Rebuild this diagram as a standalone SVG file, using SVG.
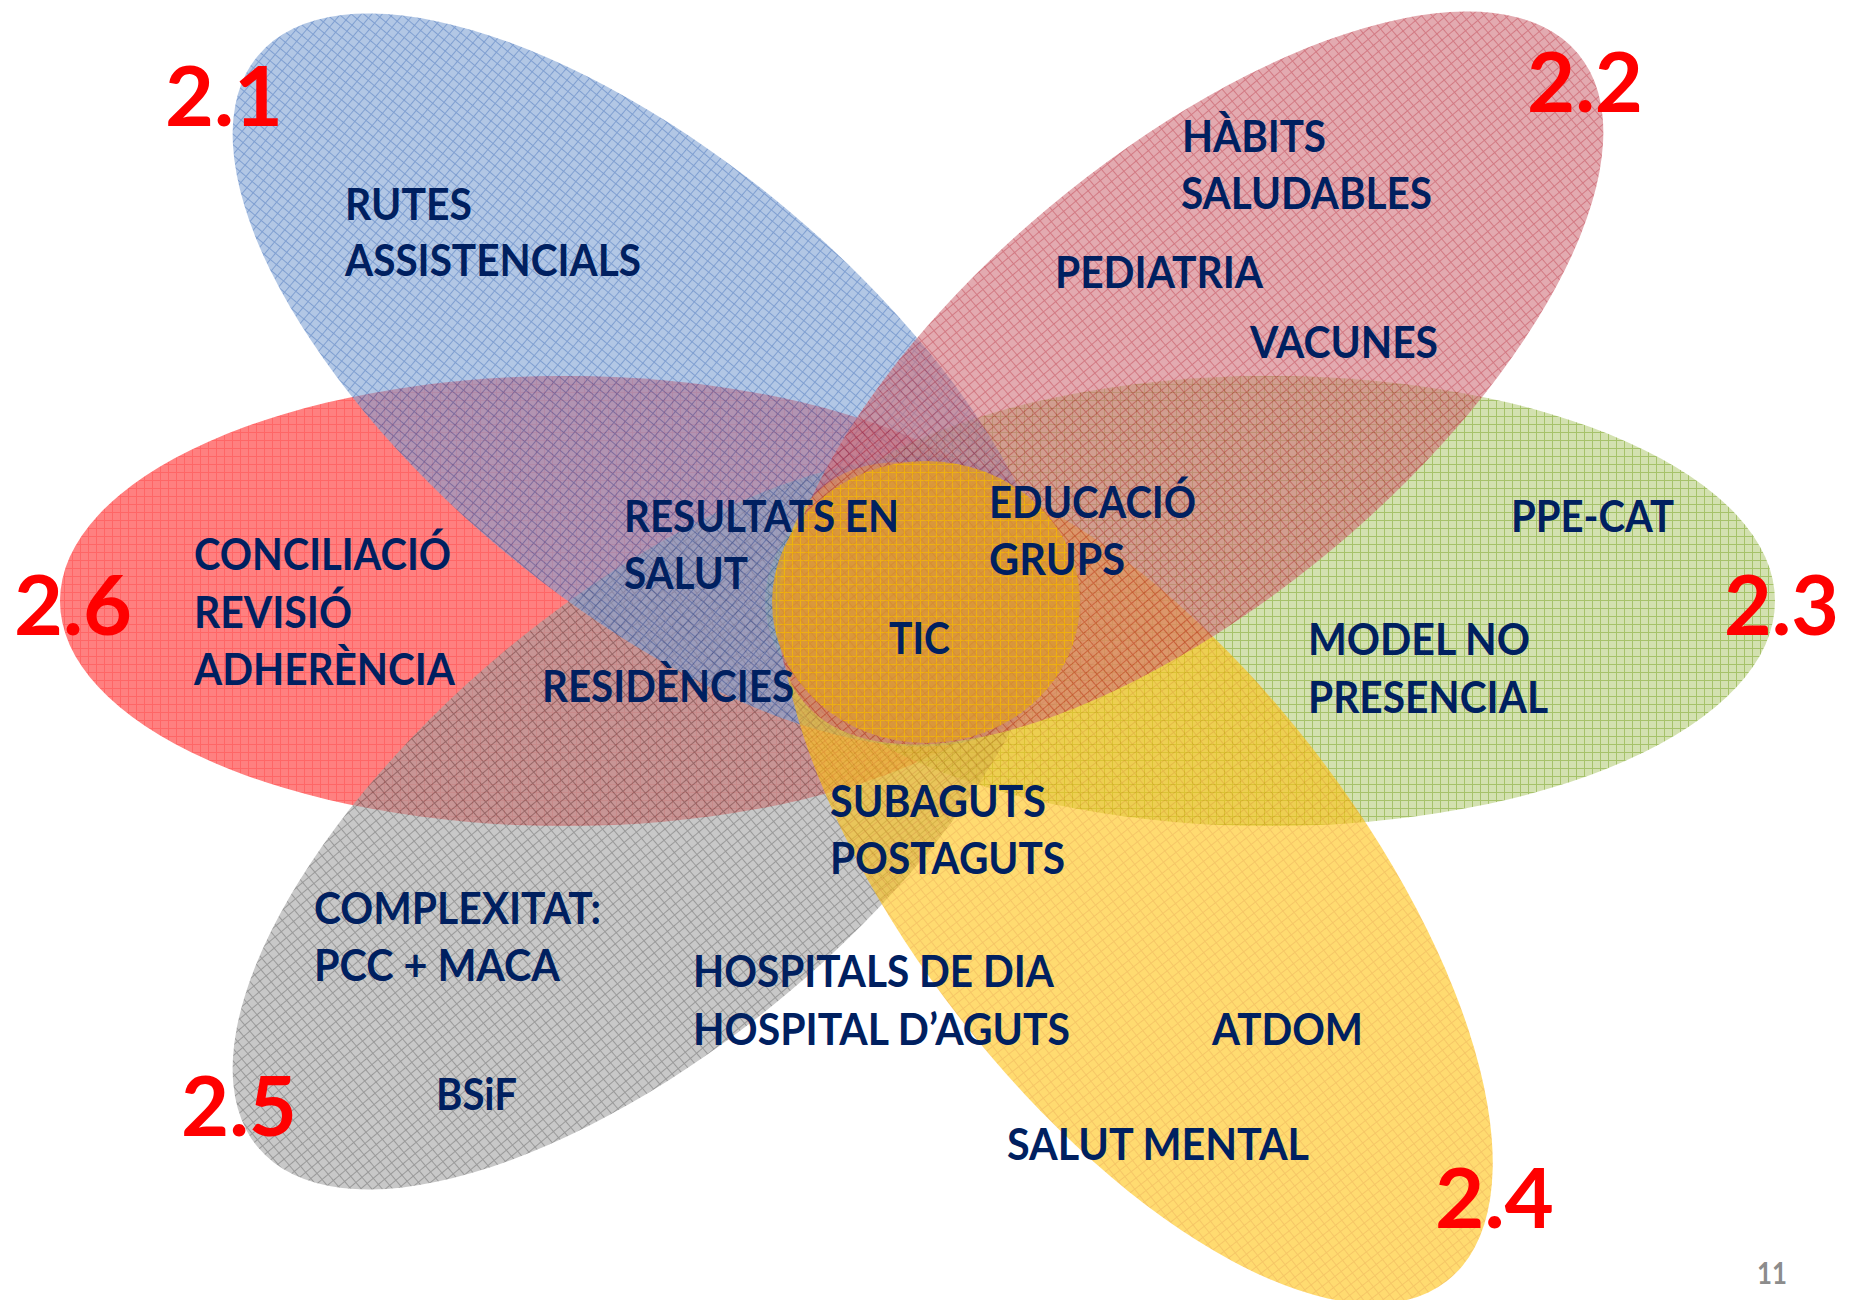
<svg xmlns="http://www.w3.org/2000/svg" width="1851" height="1300" viewBox="0 0 1851 1300">
<defs>
<pattern id="pBlue" width="8" height="8" patternUnits="userSpaceOnUse"><rect width="8" height="8" fill="#7fa2d4"/><path d="M0 0.5H8M0.5 0V8" stroke="#2a5fb2" stroke-width="1"/></pattern>
<pattern id="pPink" width="8" height="8" patternUnits="userSpaceOnUse"><rect width="8" height="8" fill="#d0717b"/><path d="M0 0.5H8M0.5 0V8" stroke="#b52030" stroke-width="1"/></pattern>
<pattern id="pGreen" width="8" height="8" patternUnits="userSpaceOnUse"><rect width="8" height="8" fill="#b6cd7b"/><path d="M0 0.5H8M0.5 0V8" stroke="#6b9907" stroke-width="1"/></pattern>
<pattern id="pYellow" width="8" height="8" patternUnits="userSpaceOnUse"><rect width="8" height="8" fill="#ffc311"/><path d="M0 0.5H8M0.5 0V8" stroke="#f0a000" stroke-width="1"/></pattern>
<pattern id="pGray" width="8" height="8" patternUnits="userSpaceOnUse"><rect width="8" height="8" fill="#a3a3a3"/><path d="M0 0.5H8M0.5 0V8" stroke="#555555" stroke-width="1"/></pattern>
<pattern id="pRed" width="8" height="8" patternUnits="userSpaceOnUse"><rect width="8" height="8" fill="#ff2b2b"/><path d="M0 0.5H8M0.5 0V8" stroke="#ff0000" stroke-width="1"/></pattern>
<pattern id="pOrange" width="8" height="8" patternUnits="userSpaceOnUse"><rect width="8" height="8" fill="#dc9a30"/><path d="M0 0.5H8M0.5 0V8" stroke="#f5b800" stroke-width="1"/></pattern>
</defs>
<style>
.petal{opacity:0.6}
.core{opacity:0.82}
.t{font-family:Lato,"Liberation Sans",sans-serif;font-weight:bold;font-size:44px;fill:#002060}
.n{font-family:Lato,"Liberation Sans",sans-serif;font-weight:bold;font-size:83px;fill:#ff0000}
.pg{font-family:Lato,"Liberation Sans",sans-serif;font-weight:bold;font-size:30px;fill:#8c8c8c}
</style>
<rect width="1851" height="1300" fill="#ffffff"/>
<g id="petals">
<g id="petal-2-6"><ellipse class="petal" cx="565" cy="601" rx="505" ry="225" fill="url(#pRed)"/></g>
<g id="petal-2-3"><ellipse class="petal" cx="1270" cy="601" rx="505" ry="225" fill="url(#pGreen)"/></g>
<g id="petal-2-5"><ellipse class="petal" cx="645" cy="823" rx="505" ry="222" transform="rotate(-40 645 823)" fill="url(#pGray)"/></g>
<g id="petal-2-1"><ellipse class="petal" cx="645" cy="380" rx="505" ry="222" transform="rotate(40 645 380)" fill="url(#pBlue)"/></g>
<g id="petal-2-4"><ellipse class="petal" cx="1136" cy="883" rx="505" ry="222" transform="rotate(52 1136 883)" fill="url(#pYellow)"/></g>
<g id="petal-2-2"><ellipse class="petal" cx="1191" cy="378" rx="505" ry="222" transform="rotate(-40 1191 378)" fill="url(#pPink)"/></g>
<g id="core"><ellipse class="core" cx="926" cy="602" rx="154" ry="141" fill="url(#pOrange)"/></g>
</g>
<g id="numbers">
<text class="n" x="165" y="126" textLength="118" lengthAdjust="spacingAndGlyphs">2.1</text>
<text class="n" x="1527" y="112" textLength="116" lengthAdjust="spacingAndGlyphs">2.2</text>
<text class="n" x="1724" y="635" textLength="115" lengthAdjust="spacingAndGlyphs">2.3</text>
<text class="n" x="1435" y="1228" textLength="119" lengthAdjust="spacingAndGlyphs">2.4</text>
<text class="n" x="181" y="1136" textLength="116" lengthAdjust="spacingAndGlyphs">2.5</text>
<text class="n" x="14" y="635" textLength="118" lengthAdjust="spacingAndGlyphs">2.6</text>
</g>
<g id="labels">
<g id="label-rutes">
<text class="t" x="345" y="220" textLength="127" lengthAdjust="spacingAndGlyphs">RUTES</text>
<text class="t" x="345" y="276" textLength="296" lengthAdjust="spacingAndGlyphs">ASSISTENCIALS</text>
</g>
<g id="label-habits">
<text class="t" x="1182" y="152" textLength="144" lengthAdjust="spacingAndGlyphs">HÀBITS</text>
<text class="t" x="1181" y="209" textLength="251" lengthAdjust="spacingAndGlyphs">SALUDABLES</text>
</g>
<g id="label-pediatria"><text class="t" x="1055" y="288" textLength="208" lengthAdjust="spacingAndGlyphs">PEDIATRIA</text></g>
<g id="label-vacunes"><text class="t" x="1250" y="358" textLength="188" lengthAdjust="spacingAndGlyphs">VACUNES</text></g>
<g id="label-resultats">
<text class="t" x="624" y="532" textLength="275" lengthAdjust="spacingAndGlyphs">RESULTATS EN</text>
<text class="t" x="624" y="589" textLength="124" lengthAdjust="spacingAndGlyphs">SALUT</text>
</g>
<g id="label-educacio">
<text class="t" x="989" y="518" textLength="207" lengthAdjust="spacingAndGlyphs">EDUCACIÓ</text>
<text class="t" x="989" y="575" textLength="136" lengthAdjust="spacingAndGlyphs">GRUPS</text>
</g>
<g id="label-conciliacio">
<text class="t" x="194" y="570" textLength="257" lengthAdjust="spacingAndGlyphs">CONCILIACIÓ</text>
<text class="t" x="194" y="628" textLength="158" lengthAdjust="spacingAndGlyphs">REVISIÓ</text>
<text class="t" x="194" y="685" textLength="261" lengthAdjust="spacingAndGlyphs">ADHERÈNCIA</text>
</g>
<g id="label-tic"><text class="t" x="889" y="654" textLength="61" lengthAdjust="spacingAndGlyphs">TIC</text></g>
<g id="label-residencies"><text class="t" x="542" y="702" textLength="252" lengthAdjust="spacingAndGlyphs">RESIDÈNCIES</text></g>
<g id="label-ppecat"><text class="t" x="1511" y="532" textLength="163" lengthAdjust="spacingAndGlyphs">PPE-CAT</text></g>
<g id="label-model">
<text class="t" x="1308" y="655" textLength="222" lengthAdjust="spacingAndGlyphs">MODEL NO</text>
<text class="t" x="1308" y="713" textLength="240" lengthAdjust="spacingAndGlyphs">PRESENCIAL</text>
</g>
<g id="label-subaguts">
<text class="t" x="830" y="817" textLength="216" lengthAdjust="spacingAndGlyphs">SUBAGUTS</text>
<text class="t" x="830" y="874" textLength="235" lengthAdjust="spacingAndGlyphs">POSTAGUTS</text>
</g>
<g id="label-complexitat">
<text class="t" x="314" y="924" textLength="287" lengthAdjust="spacingAndGlyphs">COMPLEXITAT:</text>
<text class="t" x="314" y="981" textLength="246" lengthAdjust="spacingAndGlyphs">PCC + MACA</text>
</g>
<g id="label-hospitals">
<text class="t" x="693" y="987" textLength="361" lengthAdjust="spacingAndGlyphs">HOSPITALS DE DIA</text>
<text class="t" x="693" y="1045" textLength="377" lengthAdjust="spacingAndGlyphs">HOSPITAL D’AGUTS</text>
</g>
<g id="label-atdom"><text class="t" x="1212" y="1045" textLength="151" lengthAdjust="spacingAndGlyphs">ATDOM</text></g>
<g id="label-bsif"><text class="t" x="436" y="1110" textLength="81" lengthAdjust="spacingAndGlyphs">BSiF</text></g>
<g id="label-salutmental"><text class="t" x="1007" y="1160" textLength="302" lengthAdjust="spacingAndGlyphs">SALUT MENTAL</text></g>
</g>
<text class="pg" x="1757" y="1284" textLength="30" lengthAdjust="spacingAndGlyphs">11</text>
</svg>
